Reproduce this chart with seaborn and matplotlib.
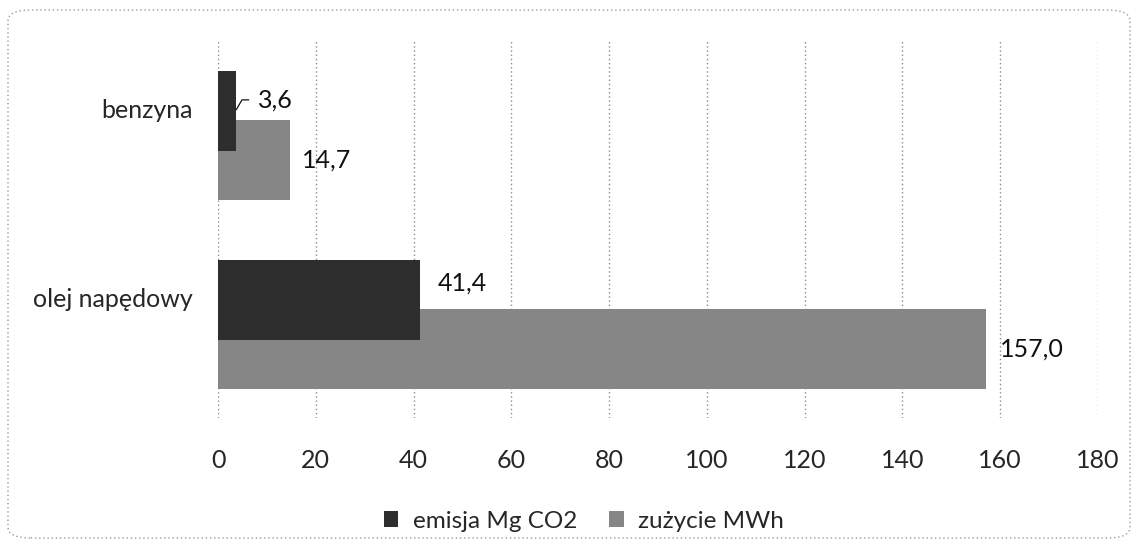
import matplotlib
matplotlib.use("Agg")
import matplotlib.pyplot as plt
import seaborn as sns
import pandas as pd
from matplotlib.patches import FancyBboxPatch, Patch

# ---- data ----
categories = ["benzyna", "olej napędowy"]
series_names = ["emisja Mg CO2", "zużycie MWh"]
emisja = [3.6, 41.4]
zuzycie = [14.7, 157.0]
x_ticks = [0, 20, 40, 60, 80, 100, 120, 140, 160, 180]

sns.set_theme(style="white")
plt.rcParams["font.family"] = ["Lato", "DejaVu Sans"]

colors = {"emisja Mg CO2": "#2e2e2e", "zużycie MWh": "#868686"}
offsets = {"emisja Mg CO2": -0.125, "zużycie MWh": 0.135}
values = {"emisja Mg CO2": emisja, "zużycie MWh": zuzycie}

fig = plt.figure(figsize=(11.38, 5.48), dpi=100)
ax = fig.add_axes([218 / 1138, 1 - 418 / 548, (1098 - 218) / 1138, (418 - 40) / 548])

# draw gray series first, dark on top
for name in ["zużycie MWh", "emisja Mg CO2"]:
    df = pd.DataFrame({
        "value": values[name],
        "pos": [i + offsets[name] for i in range(len(categories))],
    })
    sns.barplot(data=df, x="value", y="pos", orient="h", native_scale=True,
                width=0.42, color=colors[name], saturation=1, ax=ax,
                linewidth=0, zorder=3)

ax.set_ylim(1.5, -0.5)
ax.set_xlim(0, 180)
ax.set_xticks(x_ticks)
ax.set_xticklabels([str(t) for t in x_ticks], fontsize=18)
ax.set_yticks([i - 0.14 for i in range(len(categories))])
ax.set_yticklabels(categories, fontsize=18)
ax.tick_params(axis="y", length=0, pad=18)
ax.tick_params(axis="x", length=0, pad=22)
ax.set_xlabel("")
ax.set_ylabel("")
for s in ax.spines.values():
    s.set_visible(False)
for t in x_ticks:
    ax.axvline(t, color="#8a8a8a", linestyle=(0, (1, 2)), linewidth=1, zorder=1)

def fmt(v):
    return f"{v:.1f}".replace(".", ",")

# data labels
px = 0.72
# 3,6 with leader line
ax.annotate(fmt(emisja[0]), xy=(emisja[0], offsets["emisja Mg CO2"] + 0.0),
            xytext=(22 * px, 11 * px), textcoords="offset points",
            ha="left", va="center", fontsize=18, color="#111111",
            arrowprops=dict(arrowstyle="-", color="#111111", lw=0.9,
                            connectionstyle="angle,angleA=0,angleB=60,rad=0",
                            shrinkA=4, shrinkB=1))
ax.annotate(fmt(zuzycie[0]), xy=(zuzycie[0], offsets["zużycie MWh"]),
            xytext=(12 * px, 0), textcoords="offset points",
            ha="left", va="center", fontsize=18, color="#111111")
ax.annotate(fmt(emisja[1]), xy=(emisja[1], 1 + offsets["emisja Mg CO2"]),
            xytext=(17 * px, 17 * px), textcoords="offset points",
            ha="left", va="center", fontsize=18, color="#111111")
ax.annotate(fmt(zuzycie[1]), xy=(zuzycie[1], 1 + offsets["zużycie MWh"]),
            xytext=(14 * px, 0), textcoords="offset points",
            ha="left", va="center", fontsize=18, color="#111111")

handles = [Patch(facecolor=colors[n], edgecolor="none") for n in series_names]
fig.legend(handles, series_names, loc="center", ncol=2, frameon=False,
           bbox_to_anchor=(584 / 1138, 1 - 521 / 548), fontsize=17.5,
           handlelength=0.6, handleheight=0.6, handletextpad=0.6,
           columnspacing=1.3)

border = FancyBboxPatch((8 / 1138, 10 / 548), 1122 / 1138, 528 / 548,
                        boxstyle="round,pad=0,rounding_size=0.02",
                        transform=fig.transFigure, fill=False,
                        edgecolor="#9a9a9a", linestyle=(0, (1, 2)), linewidth=1)
fig.patches.append(border)

fig.savefig("out.png", dpi=100)
